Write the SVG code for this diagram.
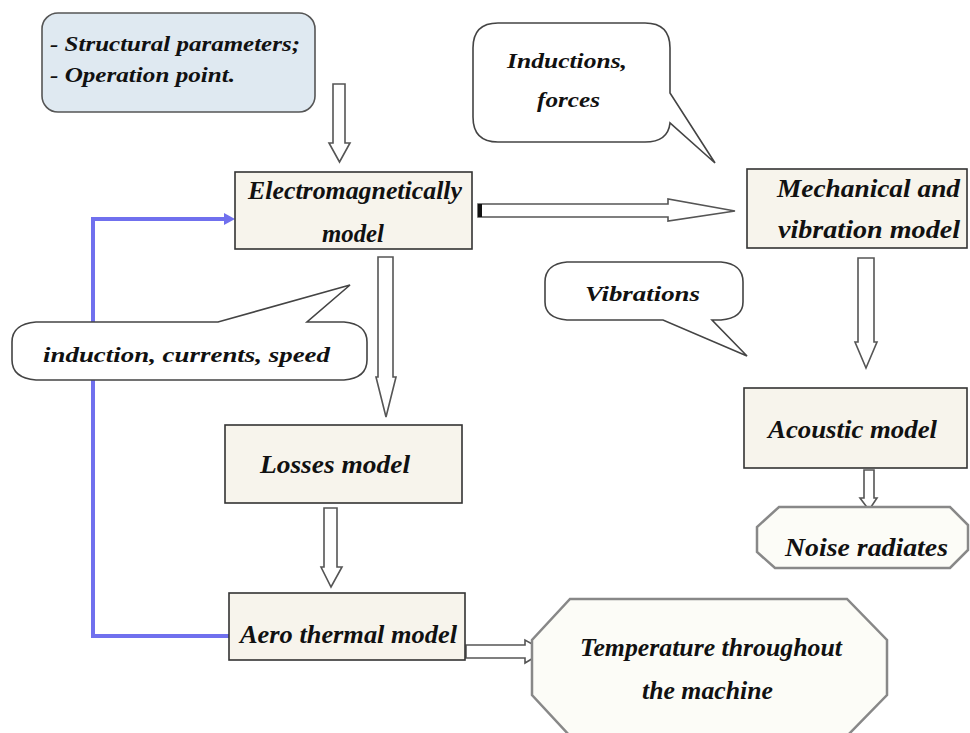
<svg xmlns="http://www.w3.org/2000/svg" width="970" height="733" viewBox="0 0 970 733">
<style>
  .t { font-family: "Liberation Serif", "DejaVu Serif", serif; font-style: italic; font-weight: bold; fill: #111; }
  .box { fill: #f7f4ec; stroke: #333; stroke-width: 1.6; }
  .inbox { fill: #dfe9f1; stroke: #555; stroke-width: 1.6; }
  .call { fill: #ffffff; stroke: #444; stroke-width: 1.6; }
  .oct { fill: #fcfcf7; stroke: #888; stroke-width: 2.5; }
  .arr { fill: #ffffff; stroke: #555; stroke-width: 1.6; stroke-linejoin: miter; }
  .blue { fill: none; stroke: #7070ee; stroke-width: 4; }
</style>
<defs>
  <pattern id="dots" width="4" height="4" patternUnits="userSpaceOnUse">
    <rect width="4" height="4" fill="#f8f6ef"/>
    <circle cx="1" cy="1" r="0.6" fill="#e4ddcc"/>
  </pattern>
  <pattern id="bdots" width="4" height="4" patternUnits="userSpaceOnUse">
    <rect width="4" height="4" fill="#e2ebf2"/>
    <circle cx="1" cy="1" r="0.6" fill="#c3d3df"/>
  </pattern>
</defs>
<rect width="970" height="733" fill="#ffffff"/>

<g id="connectors">
  <polyline class="blue" points="225,219 93,219 93,636 229,636" />
  <path d="M224,213 L235,219 L224,225 Z" fill="#7070ee"/>
  <polygon class="arr" points="333,84 345,84 345,143 350,143 339.5,162 329,143 333,143"/>
  <polygon class="arr" points="478,204 668,204 668,199 735,211 668,221 668,217 478,217"/>
  <rect x="478" y="204" width="4" height="13" fill="#111"/>
  <polygon class="arr" points="378,257 393,257 393,377 396,377 386,417 376,377 378,377"/>
  <polygon class="arr" points="858,258 874,258 874,342 877,342 866,368 855,342 858,342"/>
  <polygon class="arr" points="324,508 337,508 337,567 342,567 331,587 321,567 324,567"/>
  <polygon class="arr" points="864,470 874,470 874,498 877,498 869,510 860,498 864,498"/>
  <polygon class="arr" points="466,645 525,645 525,640 545,651 525,663 525,658 466,658"/>
</g>

<g id="inputs">
  <rect class="inbox" x="42" y="13" width="273" height="99" rx="16" fill="url(#bdots)"/>
  <text class="t" x="50" y="51" font-size="21" textLength="250" lengthAdjust="spacingAndGlyphs">- Structural parameters;</text>
  <text class="t" x="50" y="82" font-size="21" textLength="185" lengthAdjust="spacingAndGlyphs">- Operation point.</text>
</g>

<g id="em">
  <rect class="box" x="235" y="172" width="237" height="77" fill="url(#dots)"/>
  <text class="t" x="248" y="199" font-size="25" textLength="214" lengthAdjust="spacingAndGlyphs">Electromagnetically</text>
  <text class="t" x="322" y="242" font-size="25" textLength="62" lengthAdjust="spacingAndGlyphs">model</text>
</g>

<g id="mech">
  <rect class="box" x="747" y="169" width="220" height="79" fill="url(#dots)"/>
  <text class="t" x="777" y="197" font-size="25" textLength="183" lengthAdjust="spacingAndGlyphs">Mechanical and</text>
  <text class="t" x="778" y="238" font-size="25" textLength="182" lengthAdjust="spacingAndGlyphs">vibration  model</text>
</g>

<g id="inductions-forces">
  <path class="call" d="M498,23 H645 Q670,23 670,48 V93 L715,163 L670,123 Q668,142 645,142 H498 Q473,142 473,117 V48 Q473,23 498,23 Z"/>
  <text class="t" x="507" y="68" font-size="22" textLength="120" lengthAdjust="spacingAndGlyphs">Inductions,</text>
  <text class="t" x="537" y="107" font-size="22" textLength="63" lengthAdjust="spacingAndGlyphs">forces</text>
</g>

<g id="vibrations">
  <path class="call" d="M567,262 H721 Q743,264 743,282 V302 Q743,318 721,320 H712 L747,356 L663,320 H567 Q545,318 545,302 V282 Q545,264 567,262 Z"/>
  <text class="t" x="585" y="301" font-size="22" textLength="115" lengthAdjust="spacingAndGlyphs">Vibrations</text>
</g>

<g id="feedback-label">
  <path class="call" d="M36,322 H218 L350,285 L307,322 H344 Q367,324 367,342 V360 Q367,378 344,380 H36 Q12,378 12,360 V342 Q12,324 36,322 Z"/>
  <text class="t" x="43" y="362" font-size="22" textLength="287" lengthAdjust="spacingAndGlyphs">induction, currents, speed</text>
</g>

<g id="losses">
  <rect class="box" x="225" y="425" width="237" height="78" fill="url(#dots)"/>
  <text class="t" x="260" y="473" font-size="25" textLength="150" lengthAdjust="spacingAndGlyphs">Losses model</text>
</g>

<g id="acoustic">
  <rect class="box" x="744" y="388" width="223" height="80" fill="url(#dots)"/>
  <text class="t" x="768" y="438" font-size="25" textLength="169" lengthAdjust="spacingAndGlyphs">Acoustic model</text>
</g>

<g id="noise">
  <polygon class="oct" points="779,507 950,507 968,525 968,550 950,568 775,568 757,552 757,527"/>
  <text class="t" x="785" y="556" font-size="25" textLength="163" lengthAdjust="spacingAndGlyphs">Noise radiates</text>
</g>

<g id="aero">
  <rect class="box" x="229" y="593" width="236" height="67" fill="url(#dots)"/>
  <text class="t" x="240" y="643" font-size="25" textLength="217" lengthAdjust="spacingAndGlyphs">Aero thermal model</text>
</g>

<g id="temperature">
  <polygon class="oct" points="570,599 847,599 887,640 887,695 847,736 570,736 532,695 532,640"/>
  <text class="t" x="580" y="656" font-size="25" textLength="262" lengthAdjust="spacingAndGlyphs">Temperature throughout</text>
  <text class="t" x="642" y="699" font-size="25" textLength="131" lengthAdjust="spacingAndGlyphs">the machine</text>
</g>
</svg>
